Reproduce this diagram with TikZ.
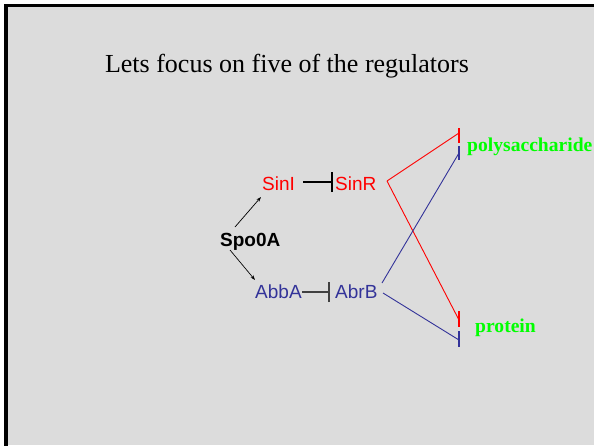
\documentclass[tikz,border=0pt]{standalone}
\usepackage{fontspec}
\setmainfont{Liberation Serif}
\setsansfont{Liberation Sans}
\usetikzlibrary{arrows.meta}
\definecolor{bggray}{HTML}{DCDCDC}
\definecolor{regred}{HTML}{FF0000}
\definecolor{regblue}{HTML}{333399}
\definecolor{prodgreen}{HTML}{00FF00}
\tikzset{
  x=1pt, y=-1pt,
  gene/.style={inner sep=0pt, anchor=base west, font=\sffamily\fontsize{19}{20}\selectfont},
  product/.style={inner sep=0pt, anchor=base west, text=prodgreen, font=\rmfamily\bfseries\fontsize{19.6}{20}\selectfont},
  activate/.style={draw=black, line width=0.7pt, -{Stealth[length=5pt,width=3.5pt]}},
  inhibit/.style={line width=1.1pt},
  redline/.style={draw=regred, line width=0.9pt},
  blueline/.style={draw=regblue, line width=0.9pt},
}
\begin{document}
\begin{tikzpicture}
\useasboundingbox (0,0) rectangle (594,445);
\fill[white] (0,0) rectangle (594,445);
\fill[bggray] (6,5.5) rectangle (594,445);
\draw[line width=3.5pt] (6,447) -- (6,5.5) -- (596,5.5);

% title
\node[inner sep=0pt, anchor=base, font=\rmfamily\fontsize{26}{28}\selectfont] (title) at (287,72) {Lets focus on five of the regulators};

% genes
\node[gene, text=regred] (sinI) at (262,190) {SinI};
\node[gene, text=regred] (sinR) at (335,190) {SinR};
\node[gene, text=black, font=\sffamily\bfseries\fontsize{19}{20}\selectfont] (spo) at (220,246) {Spo0A};
\node[gene, text=regblue] (abbA) at (255,298) {AbbA};
\node[gene, text=regblue] (abrB) at (335,298) {AbrB};

% products
\node[product] (poly) at (467,151) {polysaccharide};
\node[product] (prot) at (475,332) {protein};

% connector end points
\coordinate (spoU) at (235,227);
\coordinate (sinIin) at (261,197);
\coordinate (spoD) at (230,250);
\coordinate (abbAin) at (255,280);
\coordinate (sinIout) at (303,182);
\coordinate (sinRbar) at (332,182);
\coordinate (abbAout) at (302,292);
\coordinate (abrBbar) at (329,292);
\coordinate (sinRout) at (387,181);
\coordinate (abrBoutU) at (382,283);
\coordinate (abrBoutD) at (383,293);
\coordinate (polyR) at (459,133);
\coordinate (polyB) at (459,153);
\coordinate (protR) at (459,320);
\coordinate (protB) at (459,340);

% activations
\draw[activate] (spoU) -- (sinIin);
\draw[activate] (spoD) -- (abbAin);

% inhibitions between genes
\draw[inhibit, draw=black] (sinIout) -- (sinRbar);
\draw[inhibit, draw=black] ([yshift=-10]sinRbar) -- ([yshift=10]sinRbar);
\draw[inhibit, draw=black!75] (abbAout) -- (abrBbar);
\draw[inhibit, draw=black!75] ([yshift=-10]abrBbar) -- ([yshift=10]abrBbar);

% regulator -> product lines
\draw[redline] (sinRout) -- (polyR);
\draw[redline] (sinRout) -- (protR);
\draw[blueline] (abrBoutU) -- (polyB);
\draw[blueline] (abrBoutD) -- (protB);

% bars
\draw[redline, line width=1.1pt] (459,128) -- (459,143);
\draw[blueline, line width=1.1pt] (459,146) -- (459,160);
\draw[redline, line width=1.1pt] (459,311) -- (459,327);
\draw[blueline, line width=1.1pt] (459,331) -- (459,347);
\end{tikzpicture}
\end{document}
